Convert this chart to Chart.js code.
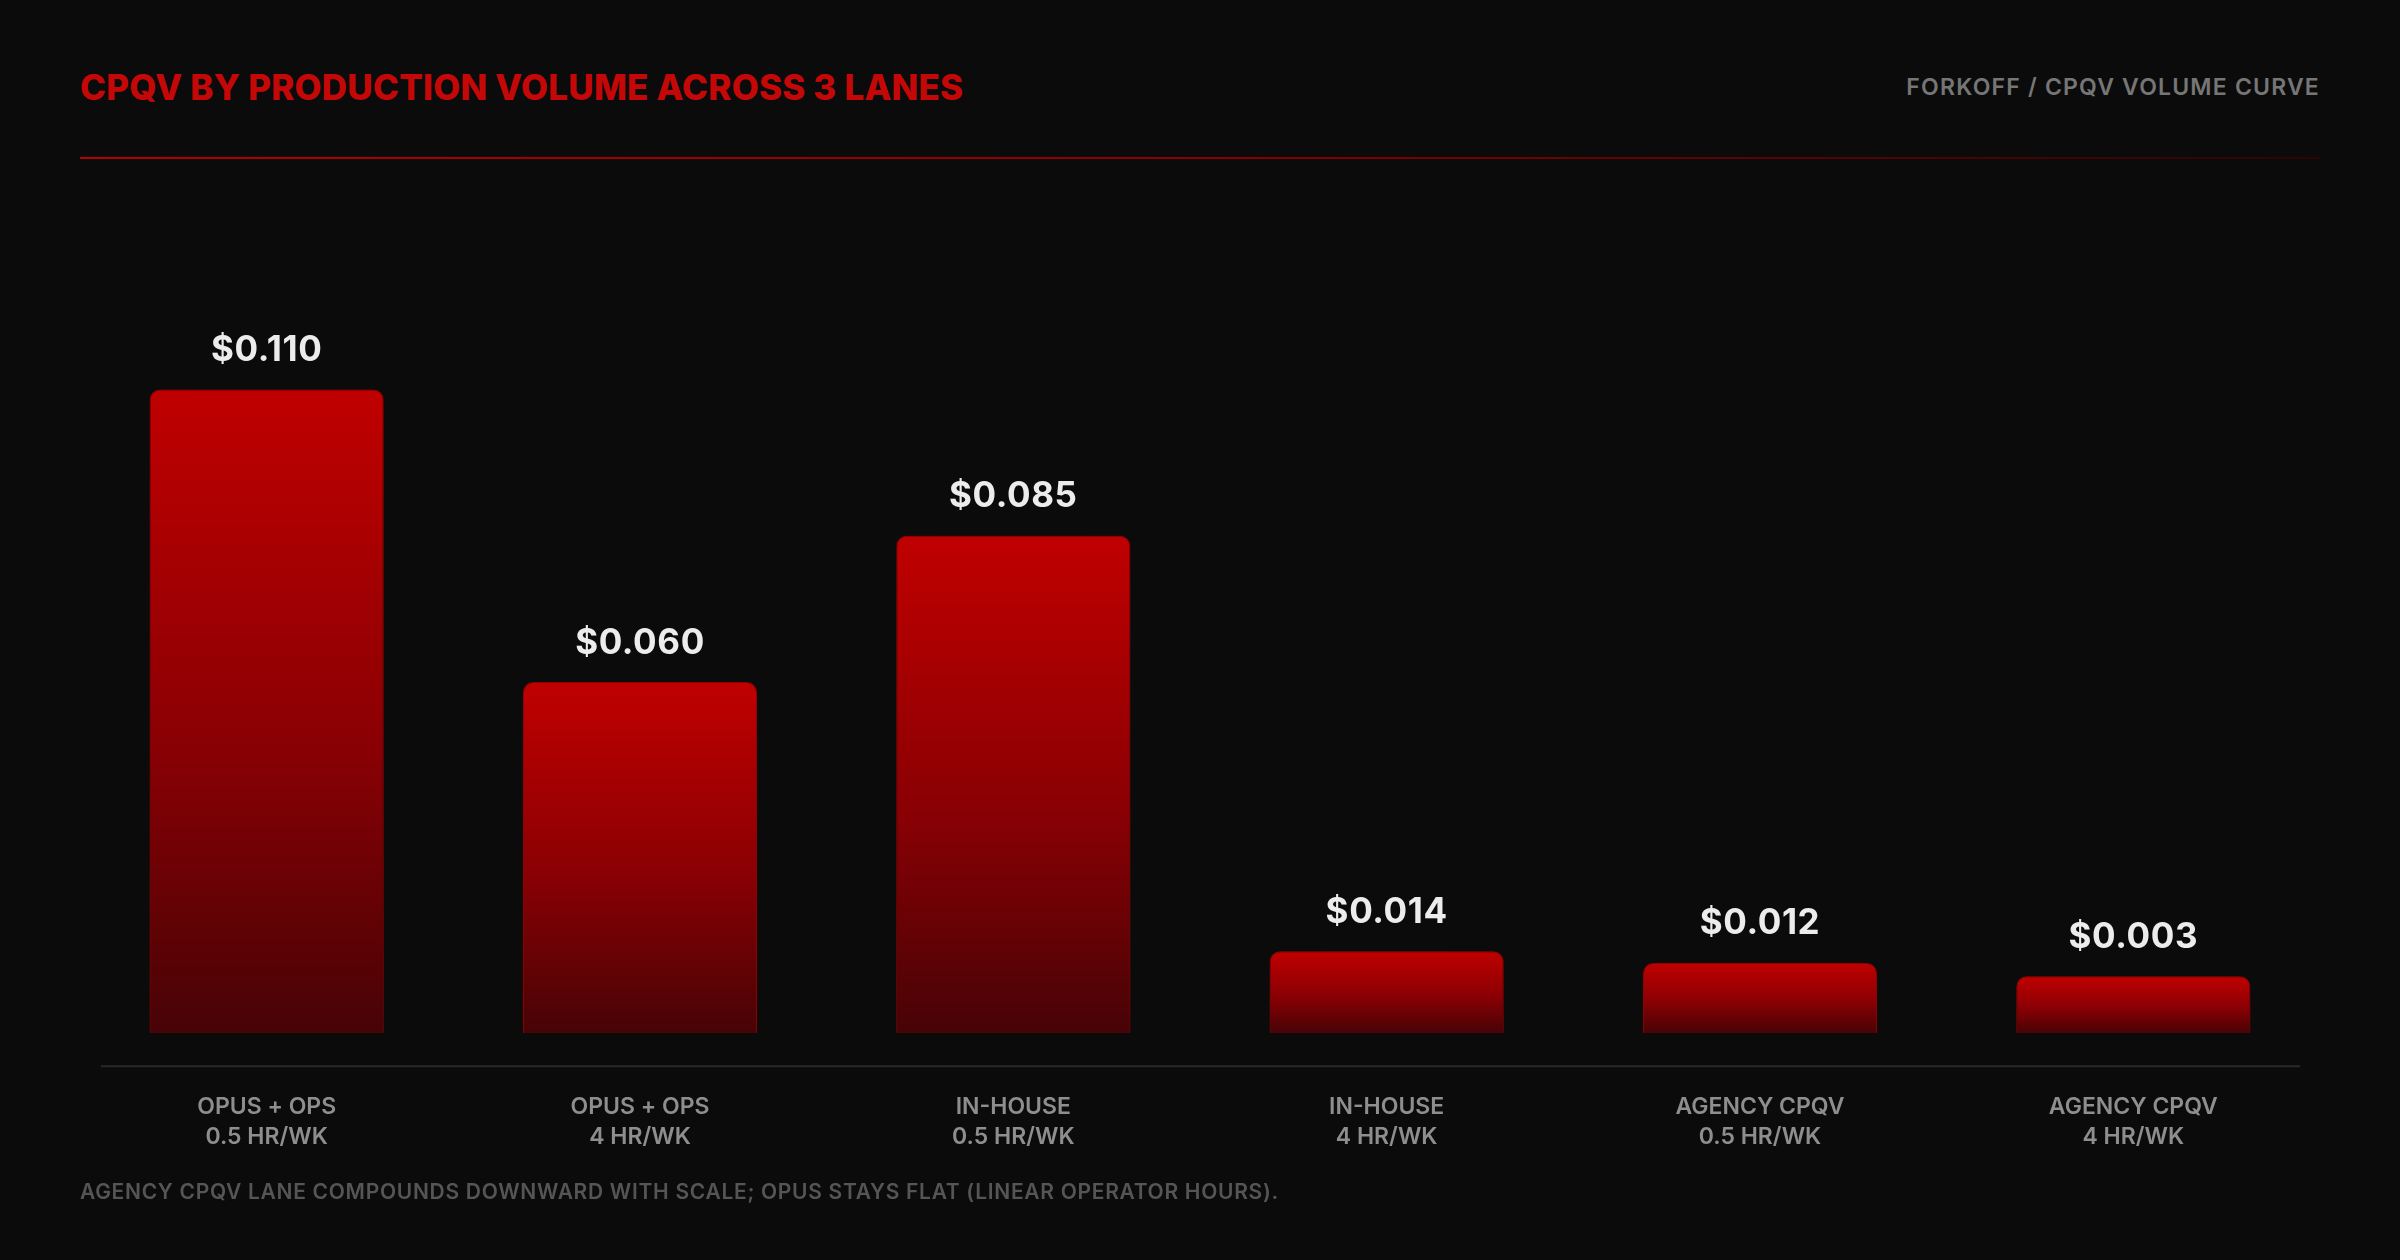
<!DOCTYPE html>
<html>
<head>
<meta charset="utf-8">
<script src="https://cdn.jsdelivr.net/npm/chart.js@4.4.1/dist/chart.umd.min.js"></script>
<style>
  html, body { margin: 0; padding: 0; background: #0b0b0b; }
  body { width: 2400px; height: 1260px; position: relative; overflow: hidden; font-family: Inter, "DejaVu Sans", sans-serif; }
  #title { position: absolute; left: 80px; top: 67px; line-height: 40px; font-size: 35px; font-weight: 800; color: #c40808; letter-spacing: 0.2px; white-space: nowrap; }
  #kicker { position: absolute; right: 80px; top: 72px; line-height: 30px; font-size: 23px; font-weight: 600; color: #767676; letter-spacing: 1.2px; white-space: nowrap; }
  #rule { position: absolute; left: 80px; top: 157px; width: 2240px; height: 2px; background: linear-gradient(90deg, #b30000 0%, #8a0000 50%, #2a0505 100%); }
  #note { position: absolute; left: 80px; top: 1177px; line-height: 30px; font-size: 21px; font-weight: 600; color: #555555; letter-spacing: 0.7px; white-space: nowrap; }
  #wrap { position: absolute; left: 80px; top: 0; width: 2240px; height: 1260px; }
</style>
</head>
<body>
<div id="title">CPQV BY PRODUCTION VOLUME ACROSS 3 LANES</div>
<div id="kicker">FORKOFF / CPQV VOLUME CURVE</div>
<div id="rule"></div>
<div id="wrap"><canvas id="c"></canvas></div>
<div id="note">AGENCY CPQV LANE COMPOUNDS DOWNWARD WITH SCALE; OPUS STAYS FLAT (LINEAR OPERATOR HOURS).</div>
<script>
const laneNames = ["OPUS + OPS", "OPUS + OPS", "IN-HOUSE", "IN-HOUSE", "AGENCY CPQV", "AGENCY CPQV"];
const hoursLabels = ["0.5 HR/WK", "4 HR/WK", "0.5 HR/WK", "4 HR/WK", "0.5 HR/WK", "4 HR/WK"];
const cpqvValues = [0.110, 0.060, 0.085, 0.014, 0.012, 0.003];
const valueLabels = ["$0.110", "$0.060", "$0.085", "$0.014", "$0.012", "$0.003"];

const categories = laneNames.map((n, i) => [n, hoursLabels[i]]);
const MIN_BAR = 57;

function barGradient(ctx) {
  const chart = ctx.chart;
  const area = chart.chartArea;
  if (!area || ctx.type !== 'data') return '#b00000';
  const y = chart.scales.y;
  const base = y.getPixelForValue(0);
  let top = y.getPixelForValue(cpqvValues[ctx.dataIndex]);
  top = Math.min(top, base - MIN_BAR);
  const g = chart.ctx.createLinearGradient(0, top, 0, base);
  g.addColorStop(0, '#c00000');
  g.addColorStop(0.55, '#8a0004');
  g.addColorStop(1, '#470306');
  return g;
}

const glowPlugin = {
  id: 'glow',
  beforeDatasetsDraw(chart) {
    const c = chart.ctx;
    c.save();
    c.shadowColor = 'rgba(190,0,0,0.45)';
    c.shadowBlur = 45;
    c.shadowOffsetX = 0;
    c.shadowOffsetY = 0;
  },
  afterDatasetsDraw(chart) {
    chart.ctx.restore();
  }
};

const valueLabelPlugin = {
  id: 'valueLabels',
  afterDatasetsDraw(chart) {
    const c = chart.ctx;
    const meta = chart.getDatasetMeta(0);
    c.save();
    c.shadowColor = 'transparent';
    c.font = '700 35px Inter, "DejaVu Sans", sans-serif';
    if ('letterSpacing' in c) c.letterSpacing = '0.6px';
    c.fillStyle = '#ececec';
    c.textAlign = 'center';
    c.textBaseline = 'middle';
    meta.data.forEach((bar, i) => {
      c.fillText(valueLabels[i], bar.x, bar.y - 39);
    });
    c.restore();
  }
};

const baselinePlugin = {
  id: 'baseline',
  afterDraw(chart) {
    const a = chart.chartArea;
    const c = chart.ctx;
    c.save();
    c.strokeStyle = '#2a2a2a';
    c.lineWidth = 2;
    c.beginPath();
    c.moveTo(a.left + 21, a.bottom + 33);
    c.lineTo(a.right - 20, a.bottom + 33);
    c.stroke();
    c.restore();
  }
};

new Chart(document.getElementById('c'), {
  type: 'bar',
  data: {
    labels: categories,
    datasets: [{
      data: cpqvValues,
      backgroundColor: barGradient,
      borderColor: 'rgba(170,0,0,0.8)',
      borderWidth: 1,
      borderSkipped: 'bottom',
      borderRadius: { topLeft: 10, topRight: 10, bottomLeft: 0, bottomRight: 0 },
      minBarLength: MIN_BAR,
      barPercentage: 0.627,
      categoryPercentage: 1.0
    }]
  },
  options: {
    responsive: true,
    maintainAspectRatio: false,
    animation: false,
    layout: { padding: { top: 214, bottom: 57, left: 0, right: 0 } },
    plugins: { legend: { display: false }, tooltip: { enabled: false }, title: { display: false } },
    scales: {
      x: {
        grid: { display: false },
        border: { display: false },
        ticks: {
          color: '#8e8e8e',
          padding: 51,
          maxRotation: 0,
          autoSkip: false,
          font: { family: 'Inter, "DejaVu Sans", sans-serif', size: 23, weight: '600', lineHeight: 1.3 }
        }
      },
      y: {
        display: false,
        min: 0,
        max: 0.14
      }
    }
  },
  plugins: [glowPlugin, valueLabelPlugin, baselinePlugin]
});
</script>
</body>
</html>
